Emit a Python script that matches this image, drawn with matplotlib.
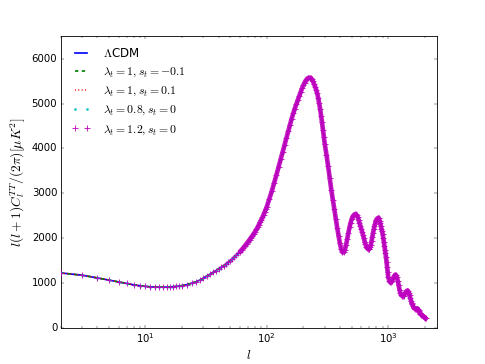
import numpy as np
import matplotlib
matplotlib.use("Agg")
import matplotlib.pyplot as plt

plt.style.use('classic')

# multipoles l (integer samples)
ell = np.concatenate([np.arange(2, 21), np.arange(22, 101, 2), np.arange(105, 301, 5),
                      np.arange(310, 1001, 10), np.arange(1020, 2041, 20)])

# l(l+1)C_l^TT/(2pi) [muK^2]
dl_lcdm = [
    1220, 1170, 1110, 1060, 1020, 985, 955, 935, 920, 910, 905, 903, 903, 905, 908, 913, 920, 928, 937,
    960, 990, 1020, 1060, 1105, 1150, 1190, 1230, 1270, 1310,
    1345, 1380, 1415, 1455, 1495, 1535, 1575, 1615, 1655, 1695,
    1735, 1780, 1825, 1870, 1915, 1960, 2005, 2050, 2095, 2140,
    2190, 2240, 2295, 2350, 2405, 2460, 2520, 2580, 2640, 2700,
    2880, 3050, 3230, 3410, 3590, 3760, 3920, 4080, 4240, 4390,
    4530, 4660, 4780, 4890, 4990, 5080, 5170, 5260, 5340, 5410,
    5470, 5520, 5555, 5575, 5580, 5570, 5540, 5495, 5440, 5380,
    5310, 5230, 5130, 5010, 4880, 4730, 4580, 4420, 4260, 4100,
    3860, 3600, 3330, 3070, 2850, 2640, 2420, 2230, 2050, 1880,
    1750, 1680, 1680, 1740, 1850, 1980, 2120, 2240, 2340, 2420,
    2480, 2510, 2530, 2530, 2510, 2470, 2410, 2340, 2270, 2200,
    2130, 2070, 1990, 1920, 1860, 1810, 1780, 1760, 1755, 1760,
    1790, 1850, 1930, 2020, 2110, 2190, 2260, 2320, 2370, 2410,
    2430, 2445, 2450, 2440, 2390, 2330, 2270, 2210, 2150, 2090,
    2010, 1920, 1830, 1740, 1660, 1570, 1460, 1350, 1240, 1130,
    1050, 1010, 1010, 1050, 1100, 1150, 1180, 1170, 1120, 1040,
    940, 840, 770, 730, 710, 705, 715, 740, 770, 800,
    820, 825, 815, 780, 720, 660, 600, 550, 520, 480,
    450, 430, 420, 415, 415, 420, 420, 410, 390, 360,
    330, 310, 295, 285, 275, 265, 255, 245, 235, 225,
    215, 205,
]
# the modified models are indistinguishable from LCDM at this scale
dl_lam1_sm = list(dl_lcdm)
dl_lam1_sp = list(dl_lcdm)
dl_lam08 = list(dl_lcdm)
dl_lam12 = list(dl_lcdm)

labels = [r'$\Lambda$CDM', r'$\lambda_t=1,s_t=-0.1$', r'$\lambda_t=1,s_t=0.1$',
          r'$\lambda_t=0.8,s_t=0$', r'$\lambda_t=1.2,s_t=0$']

MAG = (0.75, 0, 0.75)
CYA = (0, 0.75, 0.75)

fig = plt.figure(figsize=(8, 364 / 60.625), dpi=60.625, facecolor='white')
ax = fig.add_subplot(111)
ax.plot(ell, dl_lcdm, '-', color='b', lw=2, label=labels[0])
ax.plot(ell, dl_lam1_sm, '--', color='g', lw=2, dashes=(4, 4), label=labels[1])
ax.plot(ell, dl_lam1_sp, ':', color='r', lw=2, label=labels[2])
ax.plot(ell, dl_lam08, '.', color=CYA, mec=CYA, ms=5, label=labels[3])
# dense '+' markers of the lambda_t=1.2 model merge into a thick band at high l
ell_arr = np.asarray(ell)
hi = ell_arr >= 60
ax.plot(ell_arr[hi], np.asarray(dl_lam12)[hi], '-', color=MAG, lw=5.5,
        solid_capstyle='round', solid_joinstyle='round', alpha=0.9, zorder=3)
ax.plot(ell, dl_lam12, '+', color=MAG, mec=MAG, ms=8, mew=1.0, label=labels[4], zorder=4)

ax.set_xscale('log')
ax.set_xlim(2, 2500)
ax.set_ylim(0, 6500)
ax.set_yticks(np.arange(0, 6001, 1000))
ax.set_xlabel(r'$l$', fontsize=15)
ax.set_ylabel(r'$l(l+1)C_l^{TT}/(2\pi)[\mu K^2]$', fontsize=16)
ax.tick_params(labelsize=12)
ax.legend(loc='upper left', frameon=False, numpoints=2, fontsize=14,
          handlelength=1.6, labelspacing=0.42, handletextpad=1.1)
fig.savefig('out.png', dpi=60.625, facecolor='white')
